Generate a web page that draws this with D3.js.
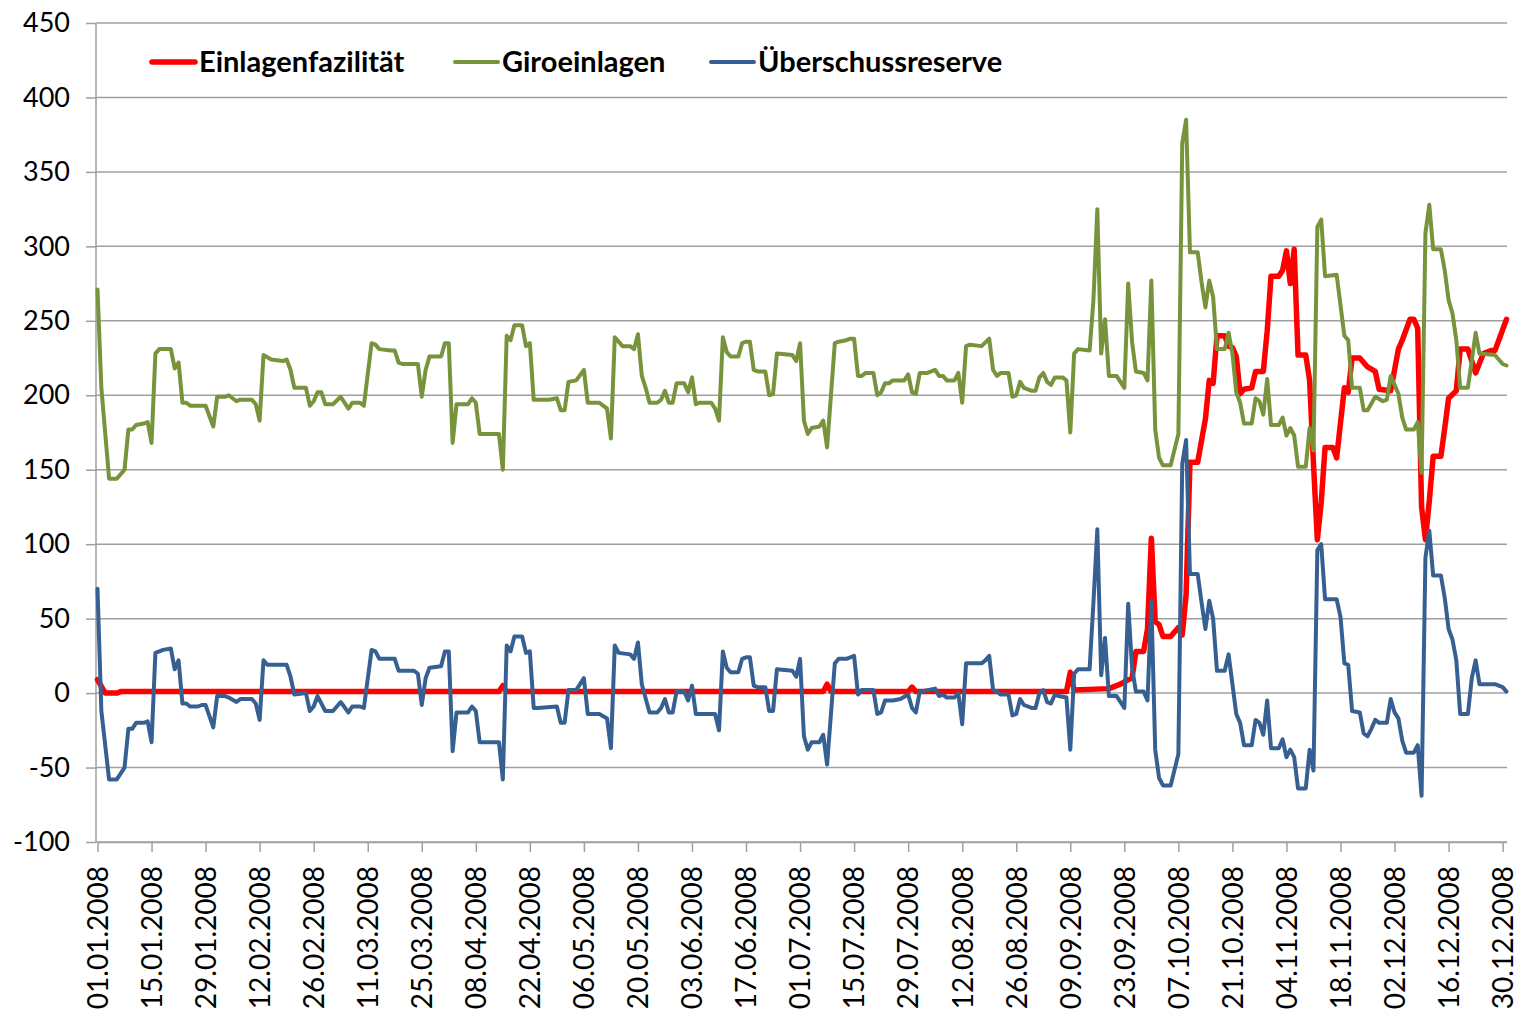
<!DOCTYPE html>
<html>
<head>
<meta charset="utf-8">
<script src="https://cdn.jsdelivr.net/npm/d3@7"></script>
<style>
  body { margin: 0; background: #fff; }
  svg { display: block; }
  .axis text { font-family: Lato, "Open Sans", sans-serif; font-size: 27px; fill: #000; }
  .xaxis text { font-size: 28px; }
  .legend text { font-family: Lato, "Open Sans", sans-serif; font-size: 29px; font-weight: 700; fill: #000; }
</style>
</head>
<body>
<div id="chart"></div>
<script>
// values: [day of 2008 (0 = 01.01.), billion EUR]
var einlagen = [
  [0, 9], [2, 0], [5, 0], [6, 1], [104, 1], [105, 5], [106, 1], [188, 1], [189, 6], [190, 1],
  [210, 1], [211, 4], [212, 1], [251, 1], [252, 14], [253, 2], [262, 3], [265, 6], [267, 9],
  [268, 10], [269, 28], [271, 28], [272, 43], [273, 104], [274, 48], [275, 46], [276, 38],
  [278, 38], [280, 44], [281, 39], [282, 66], [283, 155], [285, 155], [287, 184], [288, 210],
  [289, 208], [290, 240], [292, 240], [293, 233], [294, 232], [295, 226], [296, 201], [297, 204],
  [299, 205], [300, 216], [302, 216], [303, 243], [304, 280], [306, 280], [307, 284], [308, 297],
  [309, 275], [310, 298], [311, 227], [313, 227], [314, 210], [315, 154], [316, 103], [317, 128],
  [318, 165], [320, 165], [321, 158], [323, 205], [324, 202], [325, 225], [327, 225], [329, 219],
  [331, 216], [332, 204], [335, 203], [336, 217], [337, 231], [338, 237], [340, 251], [341, 251],
  [342, 245], [343, 125], [344, 103], [345, 129], [346, 159], [348, 159], [349, 178], [350, 198],
  [352, 203], [353, 231], [355, 231], [357, 215], [359, 228], [361, 230], [362, 230], [363, 237],
  [365, 251]
];

var giro = [
  [0, 271], [1, 205], [3, 144], [5, 144], [7, 150], [8, 177], [9, 177], [10, 180], [12, 181],
  [13, 182], [14, 168], [15, 228], [16, 231], [19, 231], [20, 218], [21, 222], [22, 195], [23, 195],
  [24, 193], [28, 193], [30, 179], [31, 199], [33, 199], [34, 200], [36, 196], [37, 197], [39, 197],
  [40, 197], [41, 194], [42, 183], [43, 227], [45, 224], [48, 223], [49, 224], [50, 217], [51, 205],
  [54, 205], [55, 193], [56, 196], [57, 202], [58, 202], [59, 194], [61, 194], [63, 199], [65, 191],
  [66, 195], [68, 195], [69, 193], [71, 235], [72, 234], [73, 231], [76, 230], [77, 230], [78, 222],
  [79, 221], [83, 221], [84, 199], [85, 217], [86, 226], [89, 226], [90, 235], [91, 235], [92, 168],
  [93, 194], [96, 194], [97, 198], [98, 195], [99, 174], [104, 174], [105, 150], [106, 240],
  [107, 237], [108, 247], [110, 247], [111, 233], [112, 235], [113, 197], [117, 197], [119, 198],
  [120, 190], [121, 190], [122, 209], [124, 210], [126, 217], [127, 195], [130, 195], [132, 191],
  [133, 171], [134, 239], [136, 233], [138, 233], [139, 231], [140, 241], [141, 213], [142, 205],
  [143, 195], [145, 195], [146, 197], [147, 203], [148, 195], [149, 195], [150, 208], [152, 208],
  [153, 202], [154, 212], [155, 194], [156, 195], [159, 195], [160, 191], [161, 183], [162, 239],
  [163, 229], [164, 226], [166, 226], [167, 235], [168, 236], [169, 236], [170, 217], [171, 216],
  [173, 216], [174, 200], [175, 201], [176, 228], [180, 227], [181, 223], [182, 235], [183, 183],
  [184, 174], [185, 178], [187, 179], [188, 183], [189, 165], [191, 235], [192, 236], [194, 237],
  [195, 238], [196, 238], [197, 213], [198, 213], [199, 215], [201, 215], [202, 200], [203, 202],
  [204, 208], [205, 208], [206, 210], [209, 210], [210, 214], [211, 202], [212, 201], [213, 215],
  [215, 215], [217, 217], [218, 213], [219, 213], [220, 210], [222, 210], [223, 215], [224, 195],
  [225, 233], [226, 234], [229, 233], [231, 238], [232, 217], [233, 213], [234, 215], [236, 215],
  [237, 199], [238, 200], [239, 209], [240, 205], [242, 203], [243, 203], [244, 212], [245, 215],
  [246, 209], [247, 207], [248, 212], [250, 212], [251, 210], [252, 175], [253, 228], [254, 231],
  [257, 230], [258, 264], [259, 325], [260, 228], [261, 251], [262, 213], [264, 213], [266, 205],
  [267, 275], [268, 236], [269, 216], [271, 215], [272, 210], [273, 277], [274, 177], [275, 158],
  [276, 153], [278, 153], [280, 174], [281, 369], [282, 385], [283, 296], [285, 296], [286, 276],
  [287, 259], [288, 277], [289, 266], [290, 231], [292, 231], [293, 242], [294, 228], [295, 202],
  [296, 195], [297, 181], [299, 181], [300, 198], [301, 196], [302, 187], [303, 211], [304, 180],
  [306, 180], [307, 185], [308, 173], [309, 178], [310, 173], [311, 152], [313, 152], [314, 178],
  [315, 163], [316, 313], [317, 318], [318, 280], [321, 281], [323, 240], [324, 237], [325, 205],
  [327, 205], [328, 190], [329, 190], [331, 199], [333, 196], [334, 197], [335, 213], [337, 201],
  [338, 185], [339, 177], [341, 177], [342, 182], [343, 148], [344, 309], [345, 328], [346, 298],
  [348, 298], [349, 284], [350, 264], [351, 255], [352, 237], [353, 205], [355, 205], [356, 223],
  [357, 242], [358, 228], [362, 227], [363, 224], [364, 221], [365, 220]
];

var reserve = [
  [0, 70], [1, -12], [3, -58], [5, -58], [7, -50], [8, -24], [9, -24], [10, -20], [12, -20],
  [13, -19], [14, -33], [15, 27], [17, 29], [19, 30], [20, 16], [21, 22], [22, -7], [23, -7],
  [24, -9], [26, -9], [27, -8], [28, -8], [30, -23], [31, -2], [33, -2], [34, -3], [36, -6],
  [37, -4], [40, -4], [41, -7], [42, -18], [43, 22], [44, 19], [49, 19], [50, 11], [51, -1],
  [54, 0], [55, -12], [56, -9], [57, -2], [59, -12], [61, -12], [63, -6], [65, -13], [66, -9],
  [68, -9], [69, -10], [71, 29], [72, 28], [73, 23], [77, 23], [78, 15], [82, 15], [83, 13],
  [84, -8], [85, 10], [86, 17], [89, 18], [90, 28], [91, 28], [92, -39], [93, -13], [96, -13],
  [97, -9], [98, -12], [99, -33], [104, -33], [105, -58], [106, 32], [107, 28], [108, 38],
  [110, 38], [111, 27], [112, 28], [113, -10], [114, -10], [119, -9], [120, -20], [121, -20],
  [122, 2], [124, 2], [126, 10], [127, -14], [130, -14], [132, -17], [133, -37], [134, 32],
  [135, 27], [138, 26], [139, 23], [140, 34], [141, 6], [143, -13], [145, -13], [146, -10],
  [147, -4], [148, -13], [149, -13], [150, 1], [152, 1], [153, -5], [154, 5], [155, -14],
  [160, -14], [161, -25], [162, 28], [163, 17], [164, 14], [166, 14], [167, 23], [168, 24],
  [169, 24], [170, 5], [171, 4], [173, 4], [174, -12], [175, -12], [176, 16], [180, 15],
  [181, 11], [182, 23], [183, -29], [184, -38], [185, -33], [187, -33], [188, -28], [189, -48],
  [191, 20], [192, 23], [194, 23], [196, 25], [197, -1], [198, 2], [201, 2], [202, -14],
  [203, -13], [204, -5], [206, -5], [208, -4], [210, -1], [211, -10], [212, -13], [213, 1],
  [215, 2], [217, 3], [218, -2], [219, -1], [220, -3], [222, -3], [223, 0], [224, -21], [225, 20],
  [229, 20], [230, 22], [231, 25], [232, 2], [233, 1], [234, -1], [236, -1], [237, -15],
  [238, -14], [239, -4], [240, -8], [242, -10], [243, -10], [244, 0], [245, 2], [246, -6],
  [247, -7], [248, -1], [249, -2], [251, -3], [252, -38], [253, 13], [254, 16], [257, 16],
  [258, 61], [259, 110], [260, 12], [261, 37], [262, -2], [264, -2], [266, -10], [267, 60],
  [268, 17], [269, 1], [271, 1], [272, -5], [273, 62], [274, -38], [275, -57], [276, -62],
  [278, -62], [280, -41], [281, 154], [282, 170], [283, 80], [285, 80], [286, 61], [287, 43],
  [288, 62], [289, 50], [290, 15], [292, 15], [293, 26], [295, -14], [296, -20], [297, -35],
  [299, -35], [300, -18], [301, -20], [302, -28], [303, -5], [304, -37], [306, -37], [307, -31],
  [308, -43], [309, -38], [310, -43], [311, -64], [313, -64], [314, -38], [315, -52], [316, 96],
  [317, 100], [318, 63], [321, 63], [322, 51], [323, 20], [324, 19], [325, -12], [327, -13],
  [328, -27], [329, -29], [330, -24], [331, -18], [332, -20], [334, -20], [335, -4], [336, -13],
  [337, -17], [338, -32], [339, -40], [341, -40], [342, -35], [343, -69], [344, 91], [345, 109],
  [346, 79], [348, 79], [349, 64], [350, 43], [351, 36], [352, 22], [353, -14], [355, -14],
  [356, 10], [357, 22], [358, 6], [362, 6], [363, 5], [364, 4], [365, 1]
];

var seriesNames = ["Einlagenfazilität", "Giroeinlagen", "Überschussreserve"];
var seriesColors = ["#ff0000", "#77933c", "#376092"];
var yTicks = d3.range(-100, 451, 50);
var xTicks = d3.range(0, 365, 14);

var width = 1533, height = 1017;

var svg = d3.select("#chart").append("svg")
    .attr("width", width)
    .attr("height", height);

var x = d3.scaleLinear()
    .domain([0, 365])
    .range([97.5, 1506.5]);

var y = d3.scaleLinear()
    .domain([-100, 450])
    .range([842, 23]);

var dayLabel = function(d) {
  return d3.utcFormat("%d.%m.%Y")(new Date(Date.UTC(2008, 0, 1 + d)));
};

// gridlines
svg.append("g")
    .attr("class", "grid")
  .selectAll("line")
    .data(yTicks)
  .enter().append("line")
    .attr("x1", 96)
    .attr("x2", 1507)
    .attr("y1", function(d) { return y(d); })
    .attr("y2", function(d) { return y(d); })
    .style("stroke", "#a0a0a0")
    .style("stroke-width", 1.5);

// y axis (plain hyphen minus as in the original)
var yAxis = svg.append("g")
    .attr("class", "axis")
    .attr("transform", "translate(96,0)")
    .call(d3.axisLeft(y).tickValues(yTicks).tickFormat(function(d) { return String(d); })
      .tickSize(10).tickPadding(16));

// x axis
var xAxis = svg.append("g")
    .attr("class", "axis xaxis")
    .attr("transform", "translate(0," + y(-100) + ")")
    .call(d3.axisBottom(x).tickValues(xTicks).tickFormat(dayLabel).tickSize(10).tickSizeOuter(0));

xAxis.selectAll("text")
    .attr("transform", "rotate(-90)")
    .attr("text-anchor", "end")
    .attr("x", -24)
    .attr("y", 0)
    .attr("dy", "0.35em");

svg.selectAll(".axis path, .axis line")
    .style("stroke", "#a0a0a0")
    .style("stroke-width", 1.5);

yAxis.select("path").attr("d", "M0," + y(450) + "V" + y(-100));

// lines
var line = d3.line()
    .x(function(d) { return x(d[0]); })
    .y(function(d) { return y(d[1]); });

var data = [einlagen, giro, reserve];
var widths = [5.5, 4, 4];

svg.append("g")
    .attr("class", "lines")
  .selectAll("path")
    .data(data)
  .enter().append("path")
    .attr("d", line)
    .style("fill", "none")
    .style("stroke", function(d, i) { return seriesColors[i]; })
    .style("stroke-width", function(d, i) { return widths[i]; })
    .style("stroke-linejoin", "round")
    .style("stroke-linecap", "round");

// legend
var legendX = [152, 455, 711];

var legend = svg.append("g")
    .attr("class", "legend")
  .selectAll("g")
    .data(seriesNames)
  .enter().append("g")
    .attr("transform", function(d, i) { return "translate(" + legendX[i] + ",62)"; });

legend.append("line")
    .attr("x1", 0)
    .attr("x2", 43)
    .style("stroke", function(d, i) { return seriesColors[i]; })
    .style("stroke-width", function(d, i) { return widths[i]; })
    .style("stroke-linecap", "round");

legend.append("text")
    .attr("x", 47)
    .attr("y", 10)
    .text(function(d) { return d; });
</script>
</body>
</html>
